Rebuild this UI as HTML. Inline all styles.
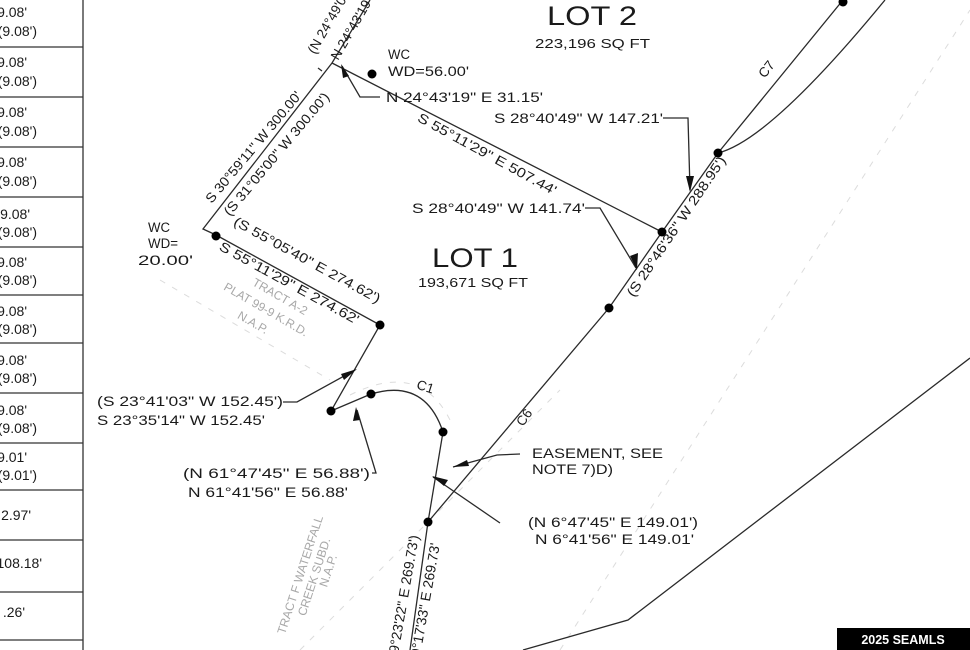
<!DOCTYPE html>
<html><head><meta charset="utf-8"><style>
html,body{margin:0;padding:0;background:#fff;}
svg{display:block;}
text{font-family:"Liberation Sans",Arial,sans-serif;fill:#1a1a1a;}
</style></head><body>
<svg width="970" height="650" viewBox="0 0 970 650" xmlns="http://www.w3.org/2000/svg" xml:space="preserve">
<rect width="970" height="650" fill="#fff"/>
<!-- table -->
<g stroke="#333" stroke-width="1.3">
<line x1="83" y1="0" x2="83" y2="650"/>
<line x1="0" y1="47" x2="83" y2="47"/><line x1="0" y1="97" x2="83" y2="97"/>
<line x1="0" y1="147" x2="83" y2="147"/><line x1="0" y1="197" x2="83" y2="197"/>
<line x1="0" y1="247" x2="83" y2="247"/><line x1="0" y1="295" x2="83" y2="295"/>
<line x1="0" y1="343" x2="83" y2="343"/><line x1="0" y1="393" x2="83" y2="393"/>
<line x1="0" y1="443" x2="83" y2="443"/><line x1="0" y1="490" x2="83" y2="490"/>
<line x1="0" y1="540" x2="83" y2="540"/><line x1="0" y1="592" x2="83" y2="592"/>
<line x1="0" y1="640" x2="83" y2="640"/>
</g>
<g font-size="14" text-anchor="end">
<text x="27" y="17">9.08'</text><text x="37" y="36">(9.08')</text>
<text x="27" y="67">9.08'</text><text x="37" y="86">(9.08')</text>
<text x="27" y="117">9.08'</text><text x="37" y="136">(9.08')</text>
<text x="27" y="167">9.08'</text><text x="37" y="186">(9.08')</text>
<text x="30" y="219">9.08'</text><text x="37" y="237">(9.08')</text>
<text x="27" y="267">9.08'</text><text x="37" y="285">(9.08')</text>
<text x="27" y="316">9.08'</text><text x="37" y="334">(9.08')</text>
<text x="27" y="365">9.08'</text><text x="37" y="383">(9.08')</text>
<text x="27" y="415">9.08'</text><text x="37" y="433">(9.08')</text>
<text x="27" y="462">9.01'</text><text x="37" y="480">(9.01')</text>
<text x="31" y="520">2.97'</text>
<text x="42" y="568">108.18'</text>
<text x="25" y="617">.26'</text>
</g>
<!-- faint dashed lines -->
<g stroke="#dcdcdc" stroke-width="1" stroke-dasharray="6 8" fill="none">
<line x1="160" y1="280" x2="330" y2="380"/>
<line x1="300" y1="650" x2="560" y2="390"/>
<line x1="560" y1="650" x2="970" y2="10"/>
<path d="M350 395 Q420 360 450 420"/>
</g>
<!-- boundary lines -->
<g stroke="#2a2a2a" stroke-width="1.3" fill="none">
<polyline points="370,0 332,63 203,229 216,235 380,325 331,411 371,394"/>
<line x1="322" y1="71" x2="318" y2="68"/>
<line x1="332" y1="63" x2="662" y2="232"/>
<path d="M371 394 Q425 378 443 432"/>
<polyline points="443,432 428,522 410,650"/>
<polyline points="428,522 609,308 662,232 718,153 843,0"/>
<path d="M718 153 Q770 140 885 0"/>
<polyline points="523,650 628,620 970,358"/>
<!-- leaders -->
<polyline points="380,97 360,97 342,66"/>
<polyline points="663,118 688,118 690,190"/>
<polyline points="585,208 600,208 636,268"/>
<polyline points="283,402 297,402 355,370"/>
<polyline points="372,473 376,473 357,410"/>
<polyline points="500,523 433,477"/>
<polyline points="520,454 497,455 453,467"/>
</g>
<!-- arrowheads -->
<g fill="#111">
<polygon points="341,64 349,76 343,78"/>
<polygon points="690,192 686,176 694,176"/>
<polygon points="637,270 630,256 638,253"/>
<polygon points="357,369 344,380 341,374"/>
<polygon points="356,407 353,421 360,420"/>
<polygon points="432,476 448,480 444,486"/>
<polygon points="453,467 467,460 469,466"/>
</g>
<!-- dots -->
<g fill="#000">
<circle cx="372" cy="74" r="4.5"/><circle cx="216" cy="236" r="4.5"/>
<circle cx="380" cy="325" r="4.5"/><circle cx="331" cy="411" r="4.5"/>
<circle cx="371" cy="394" r="4.5"/><circle cx="443" cy="432" r="4.5"/>
<circle cx="428" cy="522" r="4.5"/><circle cx="609" cy="308" r="4.5"/>
<circle cx="662" cy="232" r="4.5"/><circle cx="718" cy="153" r="4.5"/>
<circle cx="843" cy="2" r="4.5"/>
</g>
<!-- labels -->
<text x="547" y="25" font-size="27" textLength="90" lengthAdjust="spacingAndGlyphs">LOT 2</text>
<text x="535" y="48" font-size="13" textLength="115" lengthAdjust="spacingAndGlyphs">223,196 SQ FT</text>
<text x="432" y="267" font-size="27" textLength="86" lengthAdjust="spacingAndGlyphs">LOT 1</text>
<text x="418" y="287" font-size="13" textLength="110" lengthAdjust="spacingAndGlyphs">193,671 SQ FT</text>
<g font-size="13.5" lengthAdjust="spacingAndGlyphs">
<text x="388" y="59" textLength="22" lengthAdjust="spacingAndGlyphs">WC</text>
<text x="388" y="76" textLength="81" lengthAdjust="spacingAndGlyphs">WD=56.00'</text>
<text x="386" y="102" textLength="157" lengthAdjust="spacingAndGlyphs">N 24°43'19" E  31.15'</text>
<text x="494" y="123" textLength="169" lengthAdjust="spacingAndGlyphs">S 28°40'49" W  147.21'</text>
<text x="412" y="213" textLength="173" lengthAdjust="spacingAndGlyphs">S 28°40'49" W  141.74'</text>
<text x="148" y="232" textLength="22" lengthAdjust="spacingAndGlyphs">WC</text>
<text x="148" y="248" textLength="30" lengthAdjust="spacingAndGlyphs">WD=</text>
<text x="138" y="265" textLength="55" lengthAdjust="spacingAndGlyphs">20.00'</text>
<text x="97" y="406" textLength="186" lengthAdjust="spacingAndGlyphs">(S 23°41'03" W  152.45')</text>
<text x="97" y="425" textLength="168" lengthAdjust="spacingAndGlyphs">S 23°35'14" W  152.45'</text>
<text x="183" y="478" textLength="187" lengthAdjust="spacingAndGlyphs">(N 61°47'45" E  56.88')</text>
<text x="188" y="497" textLength="160" lengthAdjust="spacingAndGlyphs">N 61°41'56" E  56.88'</text>
<text x="532" y="458" textLength="131" lengthAdjust="spacingAndGlyphs">EASEMENT, SEE</text>
<text x="532" y="474" textLength="81" lengthAdjust="spacingAndGlyphs">NOTE 7)D)</text>
<text x="528" y="527" textLength="170" lengthAdjust="spacingAndGlyphs">(N 6°47'45" E  149.01')</text>
<text x="535" y="544" textLength="159" lengthAdjust="spacingAndGlyphs">N 6°41'56" E  149.01'</text>
</g>
<g font-size="13.5" text-anchor="middle">
<text transform="translate(257,150) rotate(-50)" textLength="141" lengthAdjust="spacingAndGlyphs">S 30°59'11" W  300.00'</text>
<text transform="translate(280,157) rotate(-50)" textLength="156" lengthAdjust="spacingAndGlyphs">(S 31°05'00" W  300.00')</text>
<text transform="translate(334,22) rotate(-60)">(N 24°49'08"</text>
<text transform="translate(356,30) rotate(-60)">N 24°43'19"</text>
<text transform="translate(485,158) rotate(28.6)" textLength="156" lengthAdjust="spacingAndGlyphs">S 55°11'29" E  507.44'</text>
<text transform="translate(305,264) rotate(28.6)" textLength="165" lengthAdjust="spacingAndGlyphs">(S 55°05'40" E  274.62')</text>
<text transform="translate(287,287) rotate(28.6)" textLength="157" lengthAdjust="spacingAndGlyphs">S 55°11'29" E  274.62'</text>
<text transform="translate(680,229) rotate(-56)" textLength="166" lengthAdjust="spacingAndGlyphs">(S 28°46'36" W  288.95')</text>
<text transform="translate(770,72) rotate(-52)">C7</text>
<text transform="translate(528,420) rotate(-55)">C6</text>
<text transform="translate(424,391) rotate(18)">C1</text>
</g>
<g font-size="14" text-anchor="end">
<text transform="translate(419,536) rotate(-80)">(N 9°23'22" E  269.73')</text>
<text transform="translate(440,544) rotate(-80)">N 9°17'33" E  269.73'</text>
</g>
<g font-size="12" text-anchor="middle" style="fill:#a8a8a8">
<text style="fill:#a8a8a8" transform="translate(278,300) rotate(30)">TRACT A-2</text>
<text style="fill:#a8a8a8" transform="translate(264,313) rotate(30)">PLAT 99-9 K.R.D.</text>
<text style="fill:#a8a8a8" transform="translate(251,326) rotate(30)">N.A.P.</text>
<text style="fill:#a8a8a8" transform="translate(304,576) rotate(-72)">TRACT F WATERFALL</text>
<text style="fill:#a8a8a8" transform="translate(318,578) rotate(-72)">CREEK SUBD.</text>
<text style="fill:#a8a8a8" transform="translate(332,572) rotate(-72)">N.A.P.</text>
</g>
<rect x="837" y="628" width="133" height="22" fill="#000"/>
<text x="903" y="644" font-size="12.5" font-weight="bold" text-anchor="middle" style="fill:#fff">2025 SEAMLS</text>
</svg>
</body></html>
